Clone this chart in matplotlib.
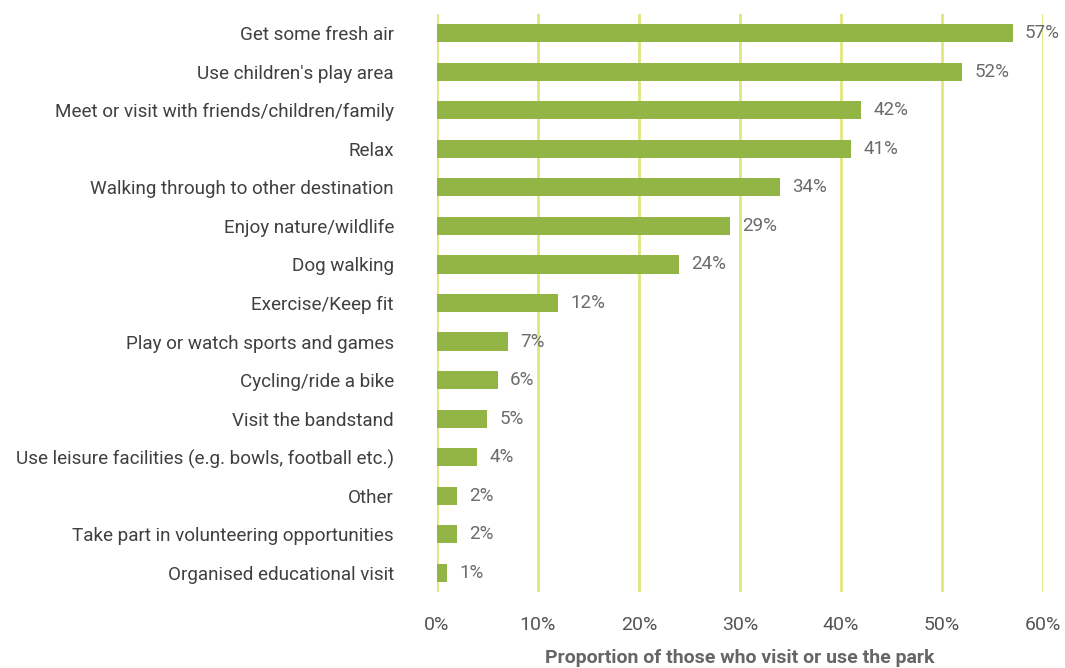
import matplotlib
matplotlib.use("Agg")
import matplotlib.pyplot as plt
from matplotlib.ticker import FuncFormatter

# ── DATA ───────────────────────────────────────────────────
activities = [
    "Get some fresh air",
    "Use children's play area",
    "Meet or visit with friends/children/family",
    "Relax",
    "Walking through to other destination",
    "Enjoy nature/wildlife",
    "Dog walking",
    "Exercise/Keep fit",
    "Play or watch sports and games",
    "Cycling/ride a bike",
    "Visit the bandstand",
    "Use leisure facilities (e.g. bowls, football etc.)",
    "Other",
    "Take part in volunteering opportunities",
    "Organised educational visit",
]
shares = [57, 52, 42, 41, 34, 29, 24, 12, 7, 6, 5, 4, 2, 2, 1]
x_ticks = [0, 10, 20, 30, 40, 50, 60]

plt.rcParams["font.family"] = ["Roboto", "DejaVu Sans"]

fig = plt.figure(figsize=(10.65, 6.68), dpi=100)
ax = fig.add_axes([0.4103, 0.1138, 0.5690, 0.8652])

ypos = list(range(len(activities)))
ax.barh(ypos, shares, height=0.47, color="#93B545", zorder=3)

for y, v in zip(ypos, shares):
    ax.text(v + 1.2, y, f"{v}%", va="center", ha="left",
            fontsize=13.5, color="#6B6B6B", zorder=4)

ax.set_yticks(ypos)
ax.set_yticklabels(activities, fontsize=13.6, color="#404040")
ax.set_ylim(len(activities) - 0.5, -0.5)

ax.set_xlim(0, 60)
ax.set_xticks(x_ticks)
ax.xaxis.set_major_formatter(FuncFormatter(lambda v, p: f"{v:.0f}%"))
ax.tick_params(axis="x", labelsize=14, labelcolor="#555555", length=0, pad=17)
ax.tick_params(axis="y", length=0, pad=31)

ax.grid(axis="x", color="#E0E67C", linewidth=2, zorder=0)
for s in ax.spines.values():
    s.set_visible(False)

ax.set_xlabel("Proportion of those who visit or use the park",
              fontsize=14, fontweight="bold", color="#666666", labelpad=11)

plt.savefig("out.png", dpi=100)
